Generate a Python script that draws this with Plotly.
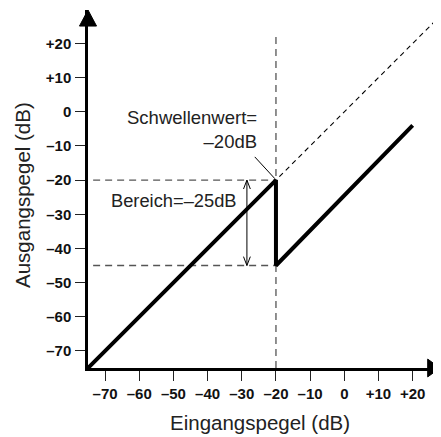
import plotly.graph_objects as go

# ---- data ----
tick_values = [-70, -60, -50, -40, -30, -20, -10, 0, 10, 20]
tick_labels = ["–70", "–60", "–50", "–40", "–30", "–20", "–10", "0", "+10", "+20"]

response_x = [-75, -20, -20, 20]      # Eingangspegel
response_y = [-75, -20, -45, -4]      # Ausgangspegel (gate)
unity_x = [-19, 28.2]                 # unity line continuation
unity_y = [-19, 28.2]

threshold = -20
floor_level = -45
range_marker_x = -28.5
axis_min = -75
x_max = 28.0
y_max = 29.8
vline_top = 22

FONT = "Liberation Sans, Arial, Helvetica, sans-serif"
GRAY = "#555555"

fig = go.Figure()

# gray guide lines
fig.add_trace(go.Scatter(x=[threshold, threshold], y=[axis_min, vline_top], mode="lines",
                         line=dict(color=GRAY, width=1.3, dash="7px,5px"), hoverinfo="skip"))
fig.add_trace(go.Scatter(x=[axis_min + 1.5, threshold], y=[threshold, threshold], mode="lines",
                         line=dict(color=GRAY, width=1.3, dash="7px,5px"), hoverinfo="skip"))
fig.add_trace(go.Scatter(x=[axis_min + 1.5, threshold], y=[floor_level, floor_level], mode="lines",
                         line=dict(color=GRAY, width=1.3, dash="7px,5px"), hoverinfo="skip"))

# dashed unity continuation
fig.add_trace(go.Scatter(x=unity_x, y=unity_y, mode="lines",
                         line=dict(color="black", width=1.1, dash="5px,4px"), hoverinfo="skip"))

# response
fig.add_trace(go.Scatter(x=response_x, y=response_y, mode="lines",
                         line=dict(color="black", width=4), hoverinfo="skip"))

# range double arrow
ah_w, ah_l = 1.0, 2.6
fig.add_trace(go.Scatter(
    x=[range_marker_x, range_marker_x, None,
       range_marker_x - ah_w, range_marker_x, range_marker_x + ah_w, None,
       range_marker_x - ah_w, range_marker_x, range_marker_x + ah_w],
    y=[threshold, floor_level, None,
       threshold - ah_l, threshold, threshold - ah_l, None,
       floor_level + ah_l, floor_level, floor_level + ah_l],
    mode="lines", line=dict(color="black", width=1), hoverinfo="skip"))

# leader line from threshold label
fig.add_trace(go.Scatter(x=[-26.2, -20.3], y=[-13.2, -19.6], mode="lines",
                         line=dict(color="black", width=1), hoverinfo="skip"))

# axis arrows (paper coordinates so they are not clipped by the plot area)
xspan = x_max - axis_min
yspan = y_max - axis_min
ax_hw, ax_len = 2.5 / xspan, 4.7 / yspan      # top arrow: half width, length
ar_hh, ar_len = 2.6 / yspan, 3.6 / xspan      # right arrow: half height, length
fig.add_shape(type="path",
              path=f"M {-ax_hw} {1 - ax_len} L 0 1 L {ax_hw} {1 - ax_len} Z",
              xref="paper", yref="paper", fillcolor="black", line=dict(color="black", width=1),
              layer="above")
fig.add_shape(type="path",
              path=f"M {1 - ar_len} {-ar_hh} L 1 0 L {1 - ar_len} {ar_hh} Z",
              xref="paper", yref="paper", fillcolor="black", line=dict(color="black", width=1),
              layer="above")

# labels
fig.add_annotation(x=-25.0, y=-5.2, xref="x", yref="y", text="Schwellenwert=<br>–20dB",
                   showarrow=False, xanchor="right", yanchor="middle", align="right",
                   font=dict(family=FONT, size=18.5, color="#222", weight="normal"))
fig.add_annotation(x=-68.8, y=-26.1, xref="x", yref="y", text="Bereich=–25dB",
                   showarrow=False, xanchor="left", yanchor="middle",
                   font=dict(family=FONT, size=18.3, color="#222", weight="normal"))

# axis titles (placed in paper pixels relative to the plot area)
fig.add_annotation(x=0.5, y=0, xref="paper", yref="paper", xshift=-4, yshift=-54,
                   text="Eingangspegel (dB)", showarrow=False, xanchor="center", yanchor="middle",
                   font=dict(family=FONT, size=20.5, color="#222", weight="normal"))
fig.add_annotation(x=0, y=0.5, xref="paper", yref="paper", xshift=-66, yshift=-6,
                   text="Ausgangspegel (dB)", textangle=-90, showarrow=False,
                   xanchor="center", yanchor="middle",
                   font=dict(family=FONT, size=20.5, color="#222", weight="normal"))

axis_common = dict(
    showgrid=False, zeroline=False, showline=True, linecolor="black", linewidth=2.5,
    ticks="outside", ticklen=10, tickwidth=1, tickcolor="#222",
    tickvals=tick_values, ticktext=tick_labels,
    tickfont=dict(family=FONT, size=15, color="#111", weight="bold"),
    fixedrange=True,
)

fig.update_xaxes(range=[axis_min, x_max], **axis_common)
fig.update_yaxes(range=[axis_min, y_max], ticklabelstandoff=1, **axis_common)

# page body has an 8px default margin: figure is offset to keep plot area in place
fig.update_layout(
    width=433, height=429,
    margin=dict(l=80, r=1, t=2, b=69, autoexpand=False),
    plot_bgcolor="white", paper_bgcolor="white",
    showlegend=False,
)

fig.write_html("out.html")
